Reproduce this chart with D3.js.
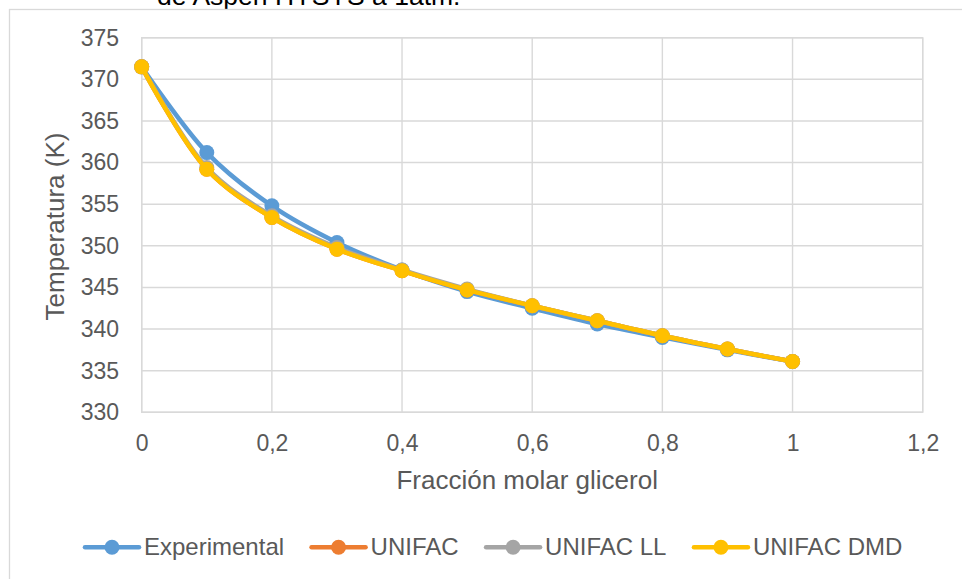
<!DOCTYPE html>
<html>
<head>
<meta charset="utf-8">
<script src="https://cdn.jsdelivr.net/npm/d3@7"></script>
<style>
  html, body { margin: 0; padding: 0; background: #fff; }
  svg { display: block; font-family: "Liberation Sans", Arial, sans-serif; }
</style>
</head>
<body>
<div id="chart"></div>
<script>
/* Temperatura vs fraccion molar de glicerol (Excel-style line chart) */

const fractions = [0, 0.1, 0.2, 0.3, 0.4, 0.5, 0.6, 0.7, 0.8, 0.9, 1.0];
const experimental = [371.5, 361.2, 354.8, 350.4, 347.1, 344.5, 342.5, 340.6, 339.0, 337.5, 336.1];
const unifac = [371.5, 359.2, 353.4, 349.6, 347.0, 344.7, 342.8, 341.0, 339.2, 337.6, 336.1];
const unifacLl = [371.5, 359.4, 353.6, 349.8, 347.1, 344.8, 342.8, 341.0, 339.2, 337.6, 336.1];
const unifacDmd = [371.5, 359.2, 353.4, 349.6, 347.0, 344.7, 342.8, 341.0, 339.2, 337.6, 336.1];

const seriesNames = ['Experimental', 'UNIFAC', 'UNIFAC LL', 'UNIFAC DMD'];
const seriesValues = [experimental, unifac, unifacLl, unifacDmd];
const seriesColors = ['#5B9BD5', '#ED7D31', '#A5A5A5', '#FFC000'];

const xTicks = [0, 0.2, 0.4, 0.6, 0.8, 1.0, 1.2];
const yTicks = [330, 335, 340, 345, 350, 355, 360, 365, 370, 375];

const W = 962, H = 579;
const plot = { left: 141.7, right: 922.7, top: 37.7, bottom: 412.3 };
const grid = '#d9d9d9';
const textGray = '#595959';

const svg = d3.select('#chart').append('svg')
  .attr('width', W)
  .attr('height', H);

// title, cut off by the top of the image (as in the source picture)
svg.append('text')
  .attr('x', 157)
  .attr('y', 5)
  .attr('font-size', 26.5)
  .attr('fill', '#000')
  .text('de Aspen HYSYS a 1atm.');

// chart area border (only top/left visible)
svg.append('rect')
  .attr('x', 9.5).attr('y', 9.5)
  .attr('width', 1200).attr('height', 1200)
  .attr('fill', '#fff')
  .attr('stroke', grid)
  .attr('stroke-width', 1.3);

const x = d3.scaleLinear().domain([0, 1.2]).range([plot.left, plot.right]);
const y = d3.scaleLinear().domain([330, 375]).range([plot.bottom, plot.top]);

// gridlines
svg.append('g')
  .selectAll('line')
  .data(yTicks)
  .join('line')
  .attr('x1', plot.left).attr('x2', plot.right)
  .attr('y1', (d) => y(d)).attr('y2', (d) => y(d))
  .attr('stroke', grid).attr('stroke-width', 1.4);

svg.append('g')
  .selectAll('line')
  .data(xTicks)
  .join('line')
  .attr('x1', (d) => x(d)).attr('x2', (d) => x(d))
  .attr('y1', plot.top).attr('y2', plot.bottom)
  .attr('stroke', grid).attr('stroke-width', 1.4);

svg.append('rect')
  .attr('x', plot.left).attr('y', plot.top)
  .attr('width', plot.right - plot.left)
  .attr('height', plot.bottom - plot.top)
  .attr('fill', 'none')
  .attr('stroke', grid).attr('stroke-width', 1.4);

// axes via d3 axis generators, then restyled
const fmtComma = (d) => String(d).replace('.', ',');

const yAxis = svg.append('g')
  .attr('transform', `translate(${plot.left},0)`)
  .call(d3.axisLeft(y).tickValues(yTicks).tickSize(0).tickPadding(22.7));
const xAxis = svg.append('g')
  .attr('transform', `translate(0,${plot.bottom})`)
  .call(d3.axisBottom(x).tickValues(xTicks).tickFormat(fmtComma).tickSize(0).tickPadding(22));

[yAxis, xAxis].forEach((a) => {
  a.select('.domain').remove();
  a.selectAll('text')
    .attr('font-size', 23)
    .attr('fill', textGray)
    .attr('font-family', '"Liberation Sans", Arial, sans-serif');
});

// axis titles
svg.append('text')
  .attr('x', (plot.left + plot.right) / 2 - 5)
  .attr('y', 489)
  .attr('text-anchor', 'middle')
  .attr('font-size', 26)
  .attr('fill', textGray)
  .text('Fracción molar glicerol');

svg.append('text')
  .attr('transform', 'translate(64,226.5) rotate(-90)')
  .attr('text-anchor', 'middle')
  .attr('font-size', 26)
  .attr('fill', textGray)
  .text('Temperatura (K)');

// series
const line = d3.line()
  .x((d, i) => x(fractions[i]))
  .y((d) => y(d))
  .curve(d3.curveCatmullRom.alpha(0.5));

seriesValues.forEach((vals, si) => {
  const g = svg.append('g');
  g.append('path')
    .datum(vals)
    .attr('d', line)
    .attr('fill', 'none')
    .attr('stroke', seriesColors[si])
    .attr('stroke-width', 4.5)
    .attr('stroke-linejoin', 'round')
    .attr('stroke-linecap', 'round');
  g.selectAll('circle')
    .data(vals)
    .join('circle')
    .attr('cx', (d, i) => x(fractions[i]))
    .attr('cy', (d) => y(d))
    .attr('r', 7.5)
    .attr('fill', seriesColors[si]);
});

// legend
const legend = svg.append('g').attr('transform', 'translate(0,547.3)');
let lx = 85;
seriesNames.forEach((name, i) => {
  const item = legend.append('g');
  item.append('line')
    .attr('x1', lx).attr('x2', lx + 54)
    .attr('y1', 0).attr('y2', 0)
    .attr('stroke', seriesColors[i])
    .attr('stroke-width', 4.5)
    .attr('stroke-linecap', 'round');
  item.append('circle')
    .attr('cx', lx + 27).attr('cy', 0)
    .attr('r', 7.5)
    .attr('fill', seriesColors[i]);
  const t = item.append('text')
    .attr('x', lx + 59)
    .attr('y', 7.5)
    .attr('font-size', 24)
    .attr('fill', textGray)
    .text(name);
  lx += 59 + t.node().getComputedTextLength() + 27.5;
});
</script>
</body>
</html>
